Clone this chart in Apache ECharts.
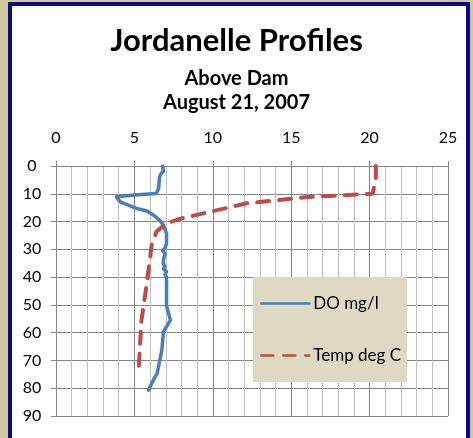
<!DOCTYPE html>
<html><head><meta charset="utf-8">
<script src="https://cdn.jsdelivr.net/npm/echarts@6/dist/echarts.min.js"></script>
<style>
html,body{margin:0;padding:0;background:#cdc99c;}
#frame{position:absolute;left:8px;top:2px;width:454px;height:440px;border:4px solid #0b0b86;background:#fff;}
#c{position:absolute;left:0;top:0;width:473px;height:438px;}
</style></head>
<body>
<div id="frame"></div>
<div id="c"></div>
<script>
var titleText = "Jordanelle Profiles";
var subtitle1 = "Above Dam";
var subtitle2 = "August 21, 2007";
var seriesNames = ["DO mg/l", "Temp deg C"];
// [value, depth (ft)]
var doValues = [[6.8,0],[6.85,1.8],[6.7,2.8],[6.6,4],[6.55,8],[6.4,9.9],[5,10.4],[3.85,11.1],[3.85,11.8],[4.1,12.9],[5.15,15.3],[5.8,16.2],[6.3,18],[6.6,19.5],[6.85,21.3],[7.05,24.3],[7.05,27.9],[6.95,29.7],[6.8,30.3],[6.95,31.5],[6.85,33.9],[6.85,35.2],[6.95,36.2],[6.85,37],[7.05,38.1],[6.95,39],[7.05,40],[7.05,50.4],[7.3,55.5],[6.85,59.7],[6.75,66.3],[6.45,74.7],[6.2,77.1],[5.9,80.7]];
var tempValues = [[20.4,0],[20.4,4],[20.2,10],[16,11.2],[12.1,13.5],[8,18.9],[7,20.7],[6.4,23.7],[6.1,28.5],[5.8,42],[5.45,55.5],[5.25,75.3]];
var xMin = 0, xMax = 25, xStep = 5;
var yMin = 0, yMax = 90, yStep = 10;

var font = 'Lato';
var chart = echarts.init(document.getElementById('c'), null, {renderer:'canvas'});
chart.setOption({
  animation:false,
  textStyle:{fontFamily:font},
  title:[
    {text:titleText,left:'center',top:20,textStyle:{fontFamily:font,fontSize:31,fontWeight:'bold',color:'#000'}},
    {text:subtitle1,left:'center',top:64,textStyle:{fontFamily:font,fontSize:20,fontWeight:'bold',color:'#000'}},
    {text:subtitle2,left:'center',top:88,textStyle:{fontFamily:font,fontSize:20,fontWeight:'bold',color:'#000'}}
  ],
  grid:{left:56,top:166,right:25,bottom:22,containLabel:false},
  legend:{
    orient:'vertical',left:253,top:277,
    backgroundColor:'#ddd9c3',
    padding:[18,6,18,7],
    itemWidth:48,itemHeight:16,itemGap:35,
    itemStyle:{opacity:0},
    lineStyle:{width:2.5},
    textStyle:{fontFamily:font,fontSize:17,color:'#000',padding:[0,0,0,-1]},
    data:seriesNames
  },
  xAxis:{
    type:'value',position:'top',min:xMin,max:xMax,interval:xStep,
    axisLine:{show:true,lineStyle:{color:'#868686',width:1}},
    axisTick:{show:true,length:5,lineStyle:{color:'#868686'}},
    axisLabel:{fontFamily:font,fontSize:16,color:'#000',margin:20},
    splitLine:{show:true,lineStyle:{color:'#868686',width:1}},
    minorTick:{show:false,splitNumber:5},
    minorSplitLine:{show:true,lineStyle:{color:'#c0c0c0',width:1}}
  },
  yAxis:{
    type:'value',inverse:true,min:yMin,max:yMax,interval:yStep,
    axisLine:{show:true,lineStyle:{color:'#868686',width:1}},
    axisTick:{show:true,length:5,lineStyle:{color:'#868686'}},
    axisLabel:{fontFamily:font,fontSize:16,color:'#000',margin:24,align:'center'},
    splitLine:{show:true,lineStyle:{color:'#868686',width:1}}
  },
  series:[
    {name:seriesNames[0],type:'line',data:doValues,symbol:'none',
     lineStyle:{color:'#4a7ebb',width:3.5,join:'round',cap:'round'},itemStyle:{color:'#4a7ebb'}},
    {name:seriesNames[1],type:'line',data:tempValues,symbol:'none',
     lineStyle:{color:'#be4b48',width:4,type:[12,10],cap:'round'},itemStyle:{color:'#be4b48'}}
  ]
});
</script>
</body></html>
